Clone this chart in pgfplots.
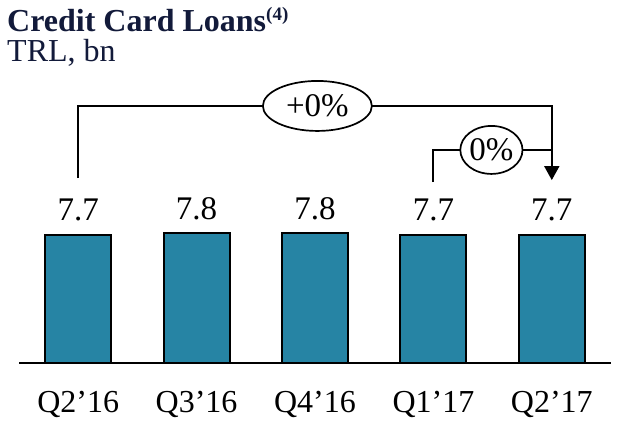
\documentclass[border=0pt]{standalone}
\usepackage{fontspec}
\setmainfont{Liberation Serif}
\usepackage{pgfplots}
\pgfplotsset{compat=1.18}
\usetikzlibrary{arrows.meta,shapes.geometric}
\definecolor{barcol}{HTML}{2684A4}
\definecolor{navy}{HTML}{121A3A}
\begin{document}
\begin{tikzpicture}
\begin{axis}[
  name=ax,
  scale only axis, width=592pt, height=363pt,
  xmin=-0.5, xmax=4.5, ymin=0, ymax=21.79,
  axis y line=none, axis x line*=bottom,
  axis line style={line width=1.9pt, black},
  xtick={0,1,2,3,4},
  xticklabels={Q2’16,Q3’16,Q4’16,Q1’17,Q2’17},
  major tick length=0pt,
  xticklabel style={font=\fontsize{32}{32}\selectfont, anchor=base, inner sep=0pt, yshift=-49pt},
  ybar, bar width=66pt,
  nodes near coords,
  nodes near coords style={font=\fontsize{33}{33}\selectfont, anchor=base, inner sep=0pt, yshift=14pt},
  /pgf/number format/.cd, fixed, precision=1, fixed zerofill, assume math mode=true,
  /pgfplots/.cd,
  clip=false,
]
\addplot[fill=barcol, draw=black, line width=1.9pt] coordinates {(0,7.7) (1,7.8) (2,7.8) (3,7.7) (4,7.7)};
\draw[line width=1.9pt, -{Triangle[width=15pt,length=14pt]}] (axis cs:0,11.1) -- (axis cs:0,15.43) -- (axis cs:4,15.43) -- (axis cs:4,10.98);
\draw[line width=1.9pt] (axis cs:3,10.86) -- (axis cs:3,12.79) -- (axis cs:4,12.79);
\node[ellipse, draw, fill=white, line width=1.7pt, minimum width=109pt, minimum height=50pt, inner sep=0pt, font=\fontsize{33}{33}\selectfont] at (axis cs:2.02,15.43) {+0\%};
\node[ellipse, draw, fill=white, line width=1.7pt, minimum width=62pt, minimum height=48pt, inner sep=0pt, font=\fontsize{33}{33}\selectfont] at (axis cs:3.49,12.79) {0\%};
\end{axis}
\node[anchor=base west, inner sep=0pt, text=navy, font=\fontsize{32}{32}\selectfont\bfseries] at ([xshift=-12pt,yshift=-32pt]ax.north west) {Credit Card Loans\raisebox{11pt}{\fontsize{19}{19}\selectfont(4)}};
\node[anchor=base west, inner sep=0pt, text=navy, font=\fontsize{32}{32}\selectfont] at ([xshift=-12pt,yshift=-62pt]ax.north west) {TRL, bn};
\pgfresetboundingbox
\path ([xshift=-19pt,yshift=-70pt]ax.south west) rectangle ([xshift=12pt]ax.north east);
\end{tikzpicture}
\end{document}
